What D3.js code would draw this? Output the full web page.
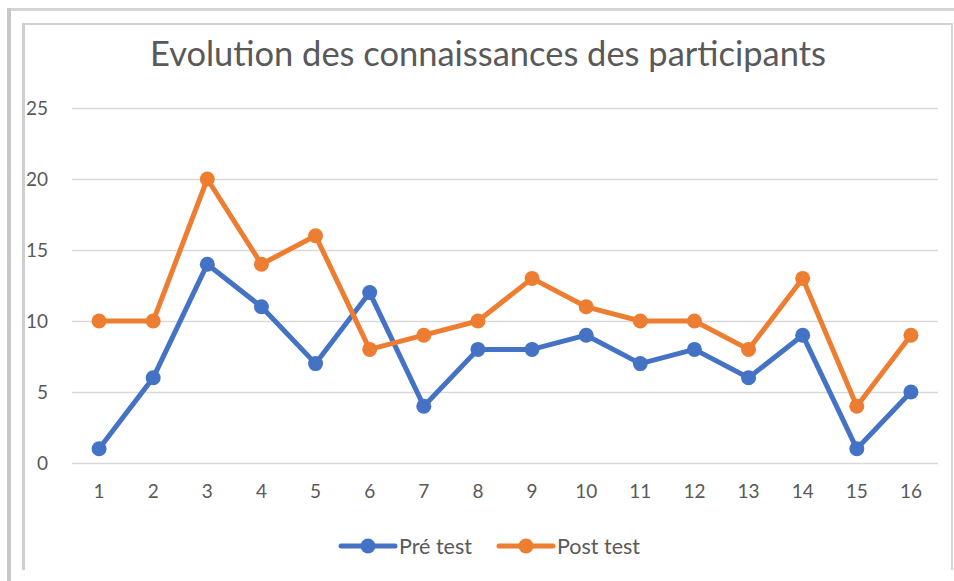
<!DOCTYPE html>
<html>
<head>
<meta charset="utf-8">
<script src="https://cdn.jsdelivr.net/npm/d3@7"></script>
<style>
  html, body { margin: 0; padding: 0; background: #fff; }
  svg { display: block; }
</style>
</head>
<body>
<svg id="chart" width="954" height="581"></svg>
<script>
const categories = ["1","2","3","4","5","6","7","8","9","10","11","12","13","14","15","16"];
const preTest  = [1, 6, 14, 11, 7, 12, 4, 8, 8, 9, 7, 8, 6, 9, 1, 5];
const postTest = [10, 10, 20, 14, 16, 8, 9, 10, 13, 11, 10, 10, 8, 13, 4, 9];
const yTicks = [0, 5, 10, 15, 20, 25];
const seriesNames = ["Pré test", "Post test"];
const seriesColors = ["#4472C4", "#ED7D31"];
const title = "Evolution des connaissances des participants";

const svg = d3.select("#chart");
const font = "Lato, 'Open Sans', sans-serif";
const textColor = "#595959";

// outer frame (document shadow lines)
svg.append("rect").attr("x", 7).attr("y", 8).attr("width", 947).attr("height", 3).attr("fill", "#d4d4d4");
svg.append("rect").attr("x", 7).attr("y", 8).attr("width", 4).attr("height", 573).attr("fill", "#c8c8c8");
// inner chart box
svg.append("rect").attr("x", 22).attr("y", 23).attr("width", 931).attr("height", 2).attr("fill", "#d0d0d0");
svg.append("rect").attr("x", 22).attr("y", 23).attr("width", 3).attr("height", 547).attr("fill", "#cfcfcf");
svg.append("rect").attr("x", 951).attr("y", 23).attr("width", 2).attr("height", 547).attr("fill", "#d6d6d6");

const margin = { left: 72, right: 938, top: 108, bottom: 463 };

const x = d3.scaleBand().domain(categories).range([margin.left, margin.right]);
const y = d3.scaleLinear().domain([0, 25]).range([margin.bottom, margin.top]);

// gridlines
const yAxis = d3.axisLeft(y).tickValues(yTicks).tickSize(-(margin.right - margin.left)).tickPadding(24);
const gy = svg.append("g").attr("transform", `translate(${margin.left},0)`).call(yAxis);
gy.select(".domain").remove();
gy.selectAll(".tick line").attr("stroke", "#d9d9d9").attr("stroke-width", 1.5);
gy.selectAll(".tick text").attr("fill", textColor).style("font-family", font).style("font-size", "19px");

// x axis
const xAxis = d3.axisBottom(x).tickSize(0).tickPadding(22);
const gx = svg.append("g").attr("transform", `translate(0,${margin.bottom})`).call(xAxis);
gx.select(".domain").remove();
gx.selectAll(".tick text").attr("fill", textColor).style("font-family", font).style("font-size", "19px");

// title
const t = svg.append("text").attr("x", 488).attr("y", 66).attr("text-anchor", "middle")
  .attr("fill", textColor).style("font-family", font).style("font-size", "32px").text(title);
const targetW = 676;
const w = t.node().getComputedTextLength();
t.style("font-size", (32 * targetW / w).toFixed(2) + "px");

// series
const series = [preTest, postTest];
const line = d3.line().x((d, i) => x(categories[i]) + x.bandwidth() / 2).y(d => y(d));
series.forEach((vals, si) => {
  const g = svg.append("g");
  g.append("path").datum(vals).attr("d", line).attr("fill", "none")
    .attr("stroke", seriesColors[si]).attr("stroke-width", 5).attr("stroke-linejoin", "round").attr("stroke-linecap", "round");
  g.selectAll("circle").data(vals).join("circle")
    .attr("cx", (d, i) => x(categories[i]) + x.bandwidth() / 2)
    .attr("cy", d => y(d)).attr("r", 7.5).attr("fill", seriesColors[si]);
});

// legend
const legendX = [341, 499];
const legendY = 546;
seriesNames.forEach((name, i) => {
  const g = svg.append("g").attr("transform", `translate(${legendX[i]},${legendY})`);
  g.append("line").attr("x1", 0).attr("x2", 54).attr("y1", 0).attr("y2", 0)
    .attr("stroke", seriesColors[i]).attr("stroke-width", 5).attr("stroke-linecap", "round");
  g.append("circle").attr("cx", 27).attr("cy", 0).attr("r", 7.5).attr("fill", seriesColors[i]);
  g.append("text").attr("x", 58).attr("y", 7.5).attr("fill", textColor)
    .style("font-family", font).style("font-size", "21.5px").text(name);
});
</script>
</body>
</html>
